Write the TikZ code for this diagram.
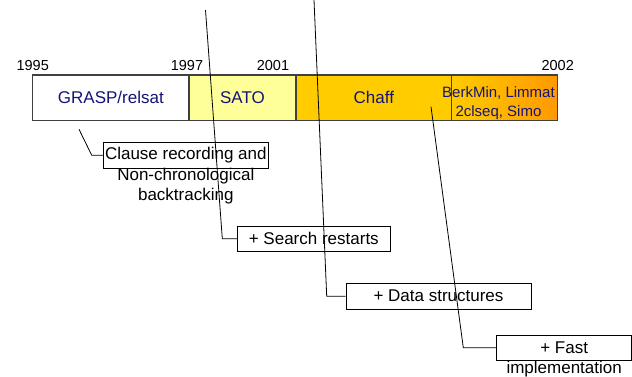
\documentclass[tikz,border=0pt]{standalone}
\usepackage{fontspec}
\setmainfont{Liberation Sans}
\usepackage{tikz}
\usetikzlibrary{positioning}
\definecolor{navytext}{RGB}{20,20,120}
\definecolor{satofill}{RGB}{255,255,153}
\definecolor{chafffill}{RGB}{255,204,0}
\definecolor{berkfill}{RGB}{255,153,0}

\begin{document}
\begin{tikzpicture}[x=1pt, y=-1pt, bar/.style={draw=black!75, line width=1.2pt, inner sep=0pt, outer sep=0pt, minimum height=45.7pt, text=navytext, font=\fontsize{17}{19}\selectfont, align=center}, year/.style={inner sep=0pt, font=\fontsize{14.5}{16}\selectfont}, callbox/.style={draw=black, line width=0.8pt, inner sep=0pt, minimum height=25.5pt, font=\fontsize{17}{19}\selectfont}, overflow/.style={inner sep=0pt, font=\fontsize{17}{19.5}\selectfont, align=center}]

    \useasboundingbox (0,0) rectangle (632,377);

    %Nodes
    \node[bar, fill=white, minimum width=156.3pt, anchor=north west](grasp) at (32.7,75) {GRASP/relsat};
    \node[bar, fill=satofill, minimum width=107pt](sato)[right=0pt of grasp]{SATO};
    \node[bar, fill=chafffill, minimum width=155.7pt](chaff)[right=0pt of sato]{Chaff};
    \node[bar, left color=chafffill, right color=berkfill, minimum width=106pt, font=\fontsize{15}{19}\selectfont](berkmin)[right=0pt of chaff]{\raisebox{0pt}[\dimexpr\height+5pt\relax][\dimexpr\depth-5pt\relax]{\makebox[100pt][r]{\begin{tabular}{@{}c@{}}BerkMin, Limmat\\2clseq, Simo\end{tabular}}}};

    \node[year](y1995)[above=4pt of grasp.north west]{1995};
    \node[year](y1997)[above=4pt of grasp.north east, xshift=-2pt]{1997};
    \node[year](y2001)[above=4pt of sato.north east, xshift=-23pt]{2001};
    \node[year](y2002)[above=4pt of berkmin.north east]{2002};

    \node[callbox, minimum width=165pt](clause) at (185.8,155.2) {Clause recording and};
    \node[overflow](clausemore)[below=0pt of clause]{Non-chronological\\backtracking};
    \node[callbox, minimum width=152.3pt](search) at (313.8,238.7) {+ Search restarts};
    \node[callbox, minimum width=185pt](data) at (438.5,296.2) {+ Data structures};
    \node[callbox, minimum width=135pt](fast) at (564.2,347.8) {+ Fast};
    \node[overflow](fastmore)[below=0pt of fast]{implementation};

    \coordinate (clausetip) at (79,129.3);
    \coordinate (clausebend) at (91.7,155.2);
    \coordinate (searchtip) at (205.5,10);
    \coordinate (searchbend) at (222.3,238.7);
    \coordinate (datatip) at (314,0);
    \coordinate (databend) at (326.7,296.2);
    \coordinate (fasttip) at (431,106.7);
    \coordinate (fastbend) at (463.3,347.8);

    %Lines
    \draw[line width=0.8pt] (clausetip) -- (clausebend) -- (clause.west);
    \draw[line width=0.8pt] (searchtip) -- (searchbend) -- (search.west);
    \draw[line width=0.8pt] (datatip) -- (databend) -- (data.west);
    \draw[line width=0.8pt] (fasttip) -- (fastbend) -- (fast.west);

\end{tikzpicture}
\end{document}
